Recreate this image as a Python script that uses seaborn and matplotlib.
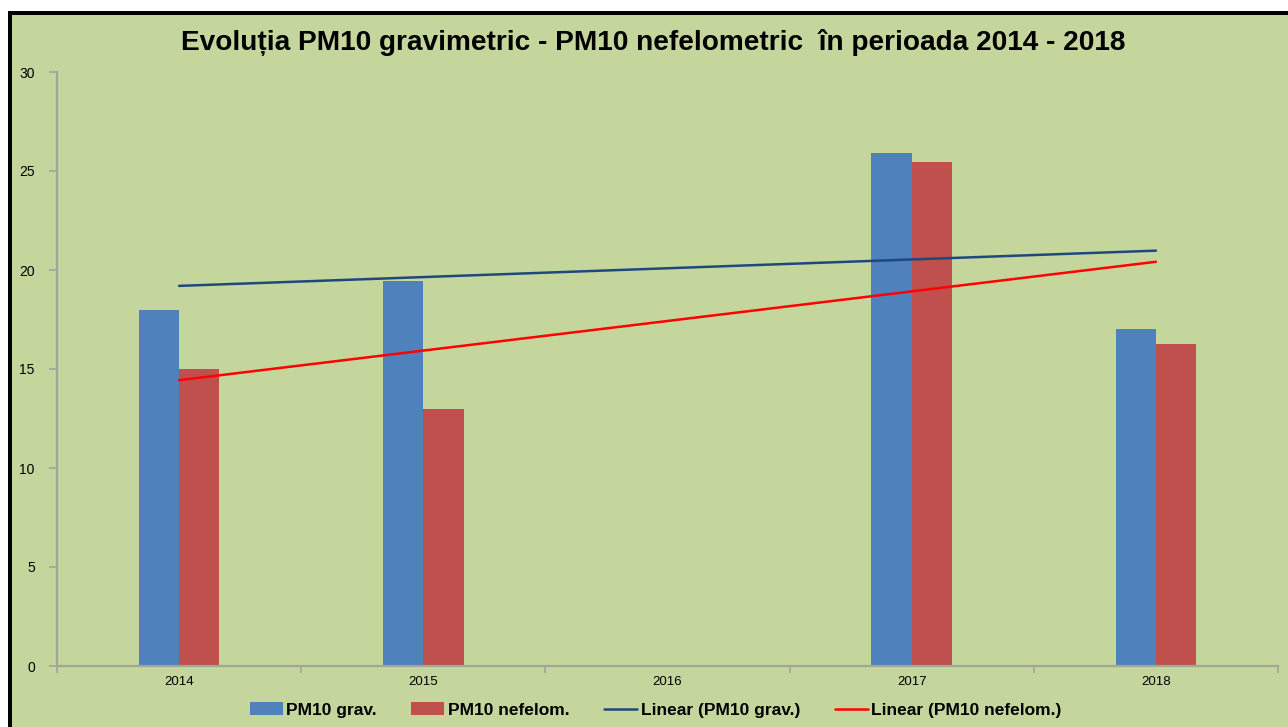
import numpy as np
import pandas as pd
import matplotlib
matplotlib.use("Agg")
import matplotlib.pyplot as plt
from matplotlib.patches import Rectangle, Patch
from matplotlib.lines import Line2D
import seaborn as sns

# data
years = ["2014", "2015", "2016", "2017", "2018"]
pm10_grav = [18.0, 19.45, np.nan, 25.9, 17.0]
pm10_nefelom = [15.0, 13.0, np.nan, 25.45, 16.25]
series_names = ["PM10 grav.", "PM10 nefelom."]
y_ticks = [0, 5, 10, 15, 20, 25, 30]

bg = "#C4D69B"
blue = "#4F81BD"
red = "#C0504D"
trend_blue = "#1F497D"
trend_red = "#FF0000"
axis_gray = "#A0A795"

df = pd.DataFrame({
    "an": years * 2,
    "valoare": pm10_grav + pm10_nefelom,
    "serie": [series_names[0]] * len(years) + [series_names[1]] * len(years),
})

sns.set_style("white")
plt.rcParams["font.family"] = ["Liberation Sans", "DejaVu Sans"]
plt.rcParams["text.color"] = "black"
plt.rcParams["xtick.color"] = "black"
plt.rcParams["ytick.color"] = "black"

fig = plt.figure(figsize=(12.88, 7.27), dpi=100)
fig.patch.set_facecolor("white")

# green chart area + black frame on top and left
fig.patches.append(Rectangle((11 / 1288, 0), 1, 1 - 14 / 727, transform=fig.transFigure,
                             facecolor=bg, edgecolor="none", zorder=-3))
fig.patches.append(Rectangle((8 / 1288, 1 - 15 / 727), 1, 4 / 727, transform=fig.transFigure,
                             facecolor="black", edgecolor="none", zorder=-2))
fig.patches.append(Rectangle((8 / 1288, 0), 4 / 1288, 1 - 11 / 727, transform=fig.transFigure,
                             facecolor="black", edgecolor="none", zorder=-2))

ax = fig.add_axes([57 / 1288, 61 / 727, 1221 / 1288, 594 / 727])
ax.set_facecolor("none")

sns.barplot(data=df, x="an", y="valoare", hue="serie", order=years,
            palette=[blue, red], width=0.33, saturation=1, ax=ax, legend=False,
            linewidth=0, edgecolor="none")

# linear trend lines (least squares, like Excel), over the years that have data
xs = np.arange(len(years))
for vals, col in [(pm10_grav, trend_blue), (pm10_nefelom, trend_red)]:
    v = np.array(vals)
    ok = ~np.isnan(v)
    k, b = np.polyfit(xs[ok], v[ok], 1)
    ax.plot(xs, k * xs + b, color=col, lw=1.8, zorder=3)

ax.set_xlim(-0.5, len(years) - 0.5)
ax.set_ylim(0, 30)
ax.set_yticks(y_ticks)
ax.set_xlabel("")
ax.set_ylabel("")

for s in ["top", "right"]:
    ax.spines[s].set_visible(False)
for s in ["left", "bottom"]:
    ax.spines[s].set_color(axis_gray)
    ax.spines[s].set_linewidth(1.6)

ax.tick_params(axis="y", left=True, length=6, width=1.2, color=axis_gray, labelsize=10, pad=10)
ax.tick_params(axis="x", which="major", bottom=False, length=0, labelsize=9.5, pad=7)
ax.set_xticks(np.arange(-0.5, len(years), 1.0), minor=True)
ax.tick_params(axis="x", which="minor", bottom=True, length=5, width=1.2, color=axis_gray,
               direction="out")

fig.text(0.507, 1 - 42 / 727, "Evoluția PM10 gravimetric - PM10 nefelometric  în perioada 2014 - 2018",
         ha="center", va="center", fontsize=20.2, fontweight="bold", color="black")

handles = [
    Patch(facecolor=blue, edgecolor="none"),
    Patch(facecolor=red, edgecolor="none"),
    Line2D([0], [0], color=trend_blue, lw=1.8),
    Line2D([0], [0], color=trend_red, lw=1.8),
]
labels = series_names + ["Linear (PM10 grav.)", "Linear (PM10 nefelom.)"]
fig.legend(handles, labels, loc="center", bbox_to_anchor=(0.509, 1 - 710 / 727), ncol=4,
           frameon=False, prop={"weight": "bold", "size": 12.5}, handlelength=1.9,
           handleheight=0.7, handletextpad=0.2, columnspacing=2.0)

fig.savefig("out.png", dpi=100)
